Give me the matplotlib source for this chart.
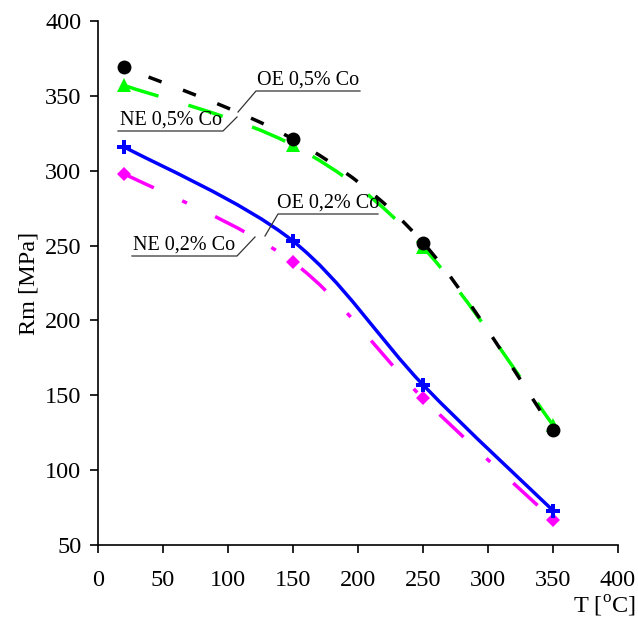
import matplotlib
matplotlib.use("Agg")
import matplotlib.pyplot as plt
from matplotlib.path import Path
from matplotlib.patches import PathPatch
import numpy as np

plt.rcParams['font.family'] = ['Liberation Serif', 'DejaVu Serif']
plt.rcParams['mathtext.fontset'] = 'custom'
plt.rcParams['mathtext.rm'] = 'Liberation Serif'

T = [20, 150, 250, 350]
oe05 = [369, 321, 252, 127]
ne05 = [357, 317, 249, 130]
oe02 = [316, 253, 157, 73]
ne02 = [298, 239, 148, 67]

x_ticks = [0, 50, 100, 150, 200, 250, 300, 350, 400]
y_ticks = [50, 100, 150, 200, 250, 300, 350, 400]


def smooth_path(xs, ys):
    pts = np.column_stack([xs, ys]).astype(float)
    n = len(pts)
    verts = [pts[0]]
    codes = [Path.MOVETO]
    for i in range(n - 1):
        p0 = pts[i - 1] if i > 0 else pts[i]
        p1 = pts[i]
        p2 = pts[i + 1]
        p3 = pts[i + 2] if i + 2 < n else pts[i + 1]
        c1 = p1 + (p2 - p0) / 6.0
        c2 = p2 - (p3 - p1) / 6.0
        verts += [c1, c2, p2]
        codes += [Path.CURVE4] * 3
    return Path(verts, codes)


fig = plt.figure(figsize=(6.38, 6.18), dpi=100)
ax = fig.add_axes([98 / 638, 73 / 618, 520 / 638, 524 / 618])

series = [
    (ne05, '#00FF00', (0, (10.4, 9)), '^', 10, 1),
    (oe05, 'black', (3, (4, 6.6)), 'o', 10, 2),
    (ne02, '#FF00FF', (0, (9.5, 9, 1.5, 9)), 'D', 7.5, 3),
    (oe02, '#0000FF', '-', 'P', 10, 4),
]
for ys, col, ls, mk, ms, z in series:
    patch = PathPatch(smooth_path(T, ys), facecolor='none', edgecolor=col,
                      linewidth=2.5, linestyle=ls, zorder=z, capstyle='butt')
    ax.add_patch(patch)
    ax.plot(T, ys, linestyle='none', marker=mk, markersize=ms, color=col,
            markeredgewidth=0, zorder=z + 0.5, clip_on=False)

ax.set_xlim(0, 400)
ax.set_ylim(50, 400)
ax.set_xticks(x_ticks)
ax.set_yticks(y_ticks)
ax.tick_params(direction='out', length=6, width=1.2, labelsize=17.5)
ax.tick_params(axis='x', pad=12)
ax.tick_params(axis='y', pad=6)
for s in ['top', 'right']:
    ax.spines[s].set_visible(False)
for s in ['left', 'bottom']:
    ax.spines[s].set_linewidth(1.2)

ax.set_ylabel('Rm [MPa]', fontsize=17.5, labelpad=4)
fig.text(636 / 638, 1 - 606 / 618, r'T [$^{\mathregular{o}}$C]', fontsize=17.5,
         ha='right', va='center')

def px2data(px, py):
    x = (px - 98) / 520 * 400
    y = 400 - (py - 21) / 524 * 350
    return x, y

labels = [
    ('OE 0,5% Co', (256, 91), (360, 91), (238, 112)),
    ('NE 0,5% Co', (118, 131), (223, 131), (237, 117)),
    ('OE 0,2% Co', (278, 214), (378, 214), (265, 236)),
    ('NE 0,2% Co', (132, 256), (237, 256), (255, 237)),
]
for txt, a, b, c in labels:
    xa, ya = px2data(*a)
    xb, yb = px2data(*b)
    xc, yc = px2data(*c)
    if txt.startswith('OE'):
        ax.plot([xc, xa, xb], [yc, ya, yb], color='#333333', lw=0.9, zorder=6)
    else:
        ax.plot([xa, xb, xc], [ya, yb, yc], color='#333333', lw=0.9, zorder=6)
    ax.text((xa + xb) / 2, ya + 0.8, txt, fontsize=14.5, ha='center', va='bottom',
            zorder=7)

fig.savefig('out.png', dpi=100)
